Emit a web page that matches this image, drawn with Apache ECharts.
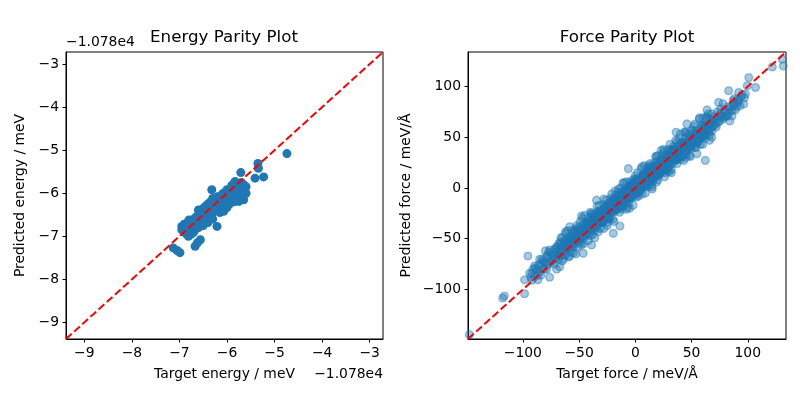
<!DOCTYPE html>
<html>
<head>
<meta charset="utf-8">
<script src="https://cdn.jsdelivr.net/npm/echarts@6/dist/echarts.min.js"></script>
<style>
  html, body { margin: 0; padding: 0; background: #fff; }
  #chart { width: 800px; height: 400px; }
</style>
</head>
<body>
<div id="chart"></div>
<script>
// energy values are relative to the axis offset shown on the plot (-1.078e4)
const energyOffsetLabel = '\u22121.078e4';
const energyTicks = [-9, -8, -7, -6, -5, -4, -3];
const energyLimits = [-9.385, -2.72];
const energyPoints = [
  [-7.13, -7.27], [-7.05, -7.33], [-6.99, -7.38],
  [-6.67, -7.23], [-6.62, -7.15], [-6.56, -7.08],
  [-6.95, -6.77], [-6.95, -6.85], [-6.9, -6.72], [-6.9, -6.9], [-6.88, -6.81], [-6.85, -6.8],
  [-6.85, -6.95], [-6.85, -6.7], [-6.81, -7.0], [-6.8, -6.75], [-6.8, -6.88], [-6.8, -6.62],
  [-6.75, -6.7], [-6.75, -6.85], [-6.75, -6.95], [-6.7, -6.6], [-6.7, -6.78], [-6.7, -6.9],
  [-6.65, -6.55], [-6.65, -6.7], [-6.65, -6.82], [-6.6, -6.39], [-6.6, -6.5], [-6.6, -6.65],
  [-6.6, -6.8], [-6.55, -6.45], [-6.55, -6.6], [-6.55, -6.72], [-6.5, -6.35], [-6.5, -6.5],
  [-6.5, -6.62], [-6.5, -6.75], [-6.45, -6.3], [-6.45, -6.45], [-6.45, -6.58], [-6.4, -6.25],
  [-6.4, -6.4], [-6.4, -6.55], [-6.4, -6.68], [-6.35, -6.2], [-6.35, -6.35], [-6.35, -6.5],
  [-6.32, -5.92], [-6.3, -6.12], [-6.3, -6.3], [-6.3, -6.45], [-6.3, -6.6], [-6.25, -6.15],
  [-6.25, -6.28], [-6.25, -6.4], [-6.21, -6.77], [-6.2, -6.08], [-6.2, -6.2], [-6.2, -6.35],
  [-6.15, -6.12], [-6.15, -6.25], [-6.15, -6.45], [-6.1, -6.02], [-6.1, -6.15], [-6.1, -6.3],
  [-6.07, -6.42], [-6.05, -5.98], [-6.05, -6.1], [-6.05, -6.25], [-6.0, -5.92], [-6.0, -6.05],
  [-6.0, -6.2], [-6.0, -6.33], [-5.95, -5.95], [-5.95, -6.1], [-5.95, -6.25], [-5.9, -5.82],
  [-5.9, -6.0], [-5.9, -6.15], [-5.85, -5.76], [-5.85, -5.9], [-5.85, -6.05], [-5.85, -6.2],
  [-5.83, -5.73], [-5.8, -5.8], [-5.8, -5.95], [-5.8, -6.1], [-5.75, -5.85], [-5.75, -6.0],
  [-5.75, -6.19], [-5.71, -5.52], [-5.7, -5.75], [-5.7, -5.9], [-5.7, -6.05], [-5.65, -5.8],
  [-5.65, -5.95], [-5.65, -6.15], [-5.6, -5.85], [-5.6, -6.0],
  [-5.41, -5.65], [-5.35, -5.31], [-5.34, -5.42], [-5.23, -5.62], [-4.74, -5.08]
];

const forceTicks = [-100, -50, 0, 50, 100];
const forceLimits = [-148.8, 134];
// [target, predicted] in meV/Å
const forceOutliers = [
  [-147.6, -144.4], [-117.9, -108.4], [-116.5, -106.5], [-98.5, -104.2], [-98.5, -90.5],
  [-95.5, -67.0], [-89.6, -76.8], [-85.1, -70.2], [-86.6, -90.5], [-76.2, -87.9], [-76.2, -61.1],
  [-67.2, -77.5], [-58.3, -38.2], [-47.9, -27.7], [-19.6, -44.7], [-13.7, -37.5], [-34.5, -12],
  [-46.4, -64.3], [-38.9, -56.2], [-6.2, 19.0], [54.8, 33.7], [62.2, 27.2], [130.7, 126.9],
  [131.6, 120.3], [121.8, 119.3], [100.9, 108.8], [99.5, 100.7], [106.9, 99.0], [97.9, 92.5],
  [83, 95.8], [91.9, 94.1], [96.4, 82.7], [87.5, 81.1], [74.1, 84.3], [63.8, 76.9],
  [45.9, 63.1], [36.3, 54.9]
];
const forceTails = [
  [-94, -84], [-92, -91], [-89, -79], [-87, -82], [-84, -86], [-83, -70], [-81, -73], [-79, -80],
  [-77, -63], [-76, -74], [-74, -67], [-72, -75], [-71, -61], [-69, -66],
  [69, 61], [70, 70], [72, 64], [73, 75], [75, 66], [76, 78], [77, 70], [79, 76], [81, 71],
  [82, 80], [85, 80], [86, 71], [88, 88], [89, 77], [91, 87], [93, 81], [95, 92], [97, 89]
];
const forceCore = [
  [-92, -84], [-90, -88], [-88, -80], [-86, -76], [-85, -83], [-83, -72], [-82, -79], [-80, -74],
  [-79, -68], [-78, -76], [-77, -70], [-75, -64], [-74, -72], [-73, -66], [-72, -60], [-71, -69],
  [-70, -63], [-69, -58], [-68, -66], [-67, -61], [-66, -55], [-65, -63], [-64, -58], [-63, -52],
  [-62, -60], [-61, -57], [-60, -50], [-59, -58], [-58, -53], [-57, -47], [-56, -54], [-55, -49],
  [-54, -44], [-53, -52], [-52, -46], [-51, -41], [-50, -49], [-49, -44], [-48.5, -38], [-47, -47],
  [-46, -40], [-45, -35], [-44, -44], [-43, -38], [-42, -33], [-41.5, -41], [-40, -36], [-39, -30],
  [-38.5, -40], [-37, -33], [-36, -28], [-35, -36], [-34, -31], [-33, -25], [-32, -33], [-31, -28],
  [-30, -22], [-29.5, -31], [-28, -25], [-27, -19], [-26, -28], [-25, -22], [-24, -16], [-23, -25],
  [-22, -19], [-21, -13], [-20, -22], [-19, -17], [-18, -11], [-17, -20], [-16, -14], [-15, -8],
  [-14, -17], [-13, -11], [-12, -5], [-11, -14], [-10, -8], [-9, -2], [-8, -12], [-7, -5],
  [-6, 1], [-5, -9], [-4, -3], [-3, 3], [-2, -6], [-1, 0], [0, 6], [1, -4], [2, 3], [3, 8],
  [4, -1], [5, 6], [6, 11], [7, 1], [8, 8], [9, 13], [10, 4], [11, 11], [12, 15], [13, 6],
  [14, 14], [15, 18], [16, 9], [17, 16], [18, 21], [19, 12], [20, 19], [21, 23], [22, 14],
  [23, 22], [24, 26], [25, 17], [26, 25], [27, 28], [28, 20], [29, 27], [30, 31], [31, 23],
  [32, 30], [33, 34], [34, 25], [35, 33], [36, 36], [37, 28], [38, 36], [39, 39], [40, 31],
  [41, 38], [42, 42], [43, 33], [44, 41], [45, 44], [46, 36], [47, 44], [48, 47], [49, 39],
  [50, 47], [51, 49], [52, 42], [53, 50], [54, 52], [55, 45], [56, 53], [57, 48], [58, 55],
  [59, 50], [60, 56], [61, 52], [62, 59], [63, 54], [64, 61], [66, 57], [67, 64], [68, 60],
  [70, 66], [71, 62], [73, 69], [74, 65], [76, 71], [78, 68], [80, 75], [82, 71], [84, 78],
  [86, 76], [88, 83], [90, 80], [92, 86],
  [-49.5, -51], [-47.5, -42], [-44.5, -47], [-42.5, -36], [-39.5, -42], [-37.5, -31], [-34.5, -37],
  [-32.5, -26], [-29.5, -34], [-27.5, -22], [-24.5, -29], [-22.5, -17], [-19.5, -24], [-17.5, -12],
  [-14.5, -19], [-12.5, -7], [-9.5, -14], [-7.5, -2], [-4.5, -10], [-2.5, 4], [0.5, -6], [2.5, 9],
  [5.5, 0], [7.5, 13], [10.5, 5], [12.5, 18], [15.5, 10], [17.5, 23], [20.5, 15], [22.5, 27],
  [25.5, 20], [27.5, 32], [30.5, 25], [32.5, 37], [35.5, 29], [37.5, 41], [40.5, 33], [42.5, 45],
  [45.5, 38], [47.5, 49], [50.5, 43], [52.5, 54], [55.5, 47], [57.5, 58], [60.5, 51], [62.5, 62],
  [65.5, 55], [68.5, 66], [72, 60], [75, 73], [79, 70], [83, 74], [87, 86], [91, 84], [94, 90],
  [-93, -88], [-91, -80], [-87, -86], [-84, -75], [-81, -80], [-78, -66], [-73, -71], [-70, -58],
  [-66, -64], [-63, -56], [-60, -59], [-57, -51], [-54, -55], [-52, -43],
  [-62, -45], [-55, -64], [-40, -24], [-28, -40], [-18, -3], [-5, -20], [8, 22], [15, 1],
  [25, 38], [30, 16], [44, 55], [48, 32], [60, 69], [68, 50], [78, 83], [84, 66], [-70, -80],
  [-80, -62], [20, 32], [-10, 5]
];
const forceWide = [
  [-68, -55], [-68, -70], [-67, -67], [-67, -53], [-66, -49], [-66, -64], [-65, -72], [-65, -49],
  [-64, -58], [-64, -70], [-63, -66], [-63, -54], [-62, -43], [-62, -66], [-61, -58], [-61, -56],
  [-60, -50], [-60, -42], [-59, -68], [-59, -67], [-58, -51], [-58, -48], [-57, -63], [-57, -59],
  [-56, -42], [-56, -50], [-55, -55], [-55, -58], [-54, -43], [-54, -41], [-53, -65], [-53, -52],
  [-52, -49], [-52, -37], [-51, -39], [-51, -58], [-50, -51], [-50, -42], [-49, -33], [-49, -54],
  [-48, -56], [-48, -44], [-47, -42], [-47, -30], [-46, -50], [-46, -55], [-45, -27], [-45, -35],
  [-44, -42], [-44, -46], [-43, -34], [-43, -37], [-42, -52], [-42, -45], [-41, -35], [-41, -29],
  [-40, -47], [-40, -40], [-39, -26], [-39, -25], [-38, -39], [-38, -46], [-37, -27], [-37, -30],
  [-36, -49], [-36, -42], [-35, -33], [-35, -32], [-34, -23], [-34, -18], [-33, -35], [-33, -43],
  [-32, -17], [-32, -23], [-31, -40], [-31, -34], [-30, -26], [-30, -25], [-29, -34], [-29, -33],
  [-28, -11], [-28, -16], [-27, -26], [-27, -27], [-26, -18], [-26, -12], [-25, -37], [-25, -34],
  [-24, -19], [-24, -18], [-23, -31], [-23, -30], [-22, -10], [-22, -20], [-21, -23], [-21, -6],
  [-20, -11], [-20, -31], [-19, -33], [-19, -11], [-18, -17], [-18, -22], [-17, -7], [-17, -13],
  [-16, -19], [-16, -21], [-15, -1], [-15, -4], [-14, -24], [-14, -15], [-13, -10], [-13, 0],
  [-12, -18], [-12, -21], [-11, 5], [-11, -5], [-10, -10], [-10, -17], [-9, -2], [-9, -7],
  [-8, -21], [-8, 6], [-7, -3], [-7, -19], [-6, -15], [-6, 1], [-5, 6], [-5, -10], [-4, -7],
  [-4, -1], [-3, 5], [-3, -9], [-2, -17], [-2, 8], [-1, -1], [-1, -3], [0, 9], [0, 12], [1, -3],
  [1, -9], [2, 15], [2, 7], [3, -8], [3, -5], [4, 6], [4, 5], [5, -2], [5, 19], [6, 21], [6, -6],
  [7, 6], [7, 14], [8, 14], [8, 3], [9, -5], [9, 11], [10, 13], [10, 3], [11, 1], [11, 20],
  [12, 22], [12, 9], [13, 9], [13, 24], [14, 21], [14, 3], [15, -1], [15, 19], [16, 15], [16, 7],
  [17, 25], [17, 17], [18, 13], [18, 31], [19, 31], [19, 6], [20, 8], [20, 26], [21, 22], [21, 15],
  [22, 14], [22, 24], [23, 37], [23, 16], [24, 22], [24, 33], [25, 29], [25, 21], [26, 11],
  [26, 36], [27, 29], [27, 15], [28, 17], [28, 31], [29, 38], [29, 19], [30, 25], [30, 29],
  [31, 37], [31, 43], [32, 15], [32, 18], [33, 31], [33, 38], [34, 41], [34, 27], [35, 29],
  [35, 36], [36, 47], [36, 28], [37, 24], [37, 45], [38, 38], [38, 34], [39, 30], [39, 49],
  [40, 53], [40, 28], [41, 38], [41, 44], [42, 45], [42, 31], [43, 27], [43, 41], [44, 45],
  [44, 55], [45, 33], [45, 30], [46, 54], [46, 50], [47, 41], [47, 39], [48, 53], [48, 48],
  [49, 31], [49, 40], [50, 47], [50, 57], [51, 57], [51, 46], [52, 45], [52, 61], [53, 63],
  [53, 40], [54, 40], [54, 56], [55, 54], [55, 44], [56, 46], [56, 54], [57, 69], [57, 68],
  [58, 54], [58, 43], [59, 61], [59, 62], [60, 43], [60, 51], [61, 61], [61, 60], [62, 49],
  [62, 52], [63, 70], [63, 69], [64, 57], [64, 58], [65, 69], [65, 73], [66, 47], [66, 52],
  [67, 63], [67, 68], [68, 73], [68, 56]
];
const forceMid = [
  [-39.5, -35], [-38.5, -41], [-37.5, -29], [-36.5, -35], [-35.5, -29], [-34.5, -39], [-33.5, -31],
  [-32.5, -24], [-31.5, -33], [-30.5, -24], [-29.5, -34], [-28.5, -25], [-27.5, -31], [-26.5, -19],
  [-25.5, -25], [-24.5, -19], [-23.5, -29], [-22.5, -21], [-21.5, -13], [-20.5, -22], [-19.5, -13],
  [-18.5, -23], [-17.5, -14], [-16.5, -21], [-15.5, -9], [-14.5, -15], [-13.5, -9], [-12.5, -19],
  [-11.5, -11], [-10.5, -3], [-9.5, -12], [-8.5, -3], [-7.5, -13], [-6.5, -4], [-5.5, -10],
  [-4.5, 2], [-3.5, -4], [-2.5, 2], [-1.5, -8], [-0.5, 0], [0.5, 7], [1.5, -2], [2.5, 7],
  [3.5, -3], [4.5, 6], [5.5, 0], [6.5, 12], [7.5, 6], [8.5, 12], [9.5, 2], [10.5, 10],
  [11.5, 18], [12.5, 9], [13.5, 18], [14.5, 8], [15.5, 17], [16.5, 11], [17.5, 22], [18.5, 16],
  [19.5, 22], [20.5, 12], [21.5, 20], [22.5, 28], [23.5, 19], [24.5, 28], [25.5, 18], [26.5, 27],
  [27.5, 21], [28.5, 33], [29.5, 27], [30.5, 33], [31.5, 23], [32.5, 31], [33.5, 38], [34.5, 29],
  [35.5, 38], [36.5, 28], [37.5, 37], [38.5, 31], [39.5, 43]
];

const blue = '#1f77b4';
const font = 'DejaVu Sans';
const minus = (v) => String(v).replace('-', '\u2212');

function axisCommon(ticks, limits, name, gap, idx) {
  return {
    type: 'value',
    gridIndex: idx,
    min: limits[0],
    max: limits[1],
    name: name,
    nameLocation: 'middle',
    nameGap: gap,
    nameTextStyle: { color: '#000', fontFamily: font, fontSize: 13.9 },
    splitLine: { show: false },
    axisLine: { show: true, onZero: false, lineStyle: { color: '#000', width: 1 } },
    axisTick: { show: true, length: 3.5, lineStyle: { color: '#000' }, customValues: ticks },
    axisLabel: {
      color: '#000', fontFamily: font, fontSize: 13.9, margin: 7,
      customValues: ticks, formatter: minus
    }
  };
}

const chart = echarts.init(document.getElementById('chart'), null, { renderer: 'canvas' });

const diagStyle = { color: 'red', width: 2, type: [7.7, 3.3] };
const titleStyle = { fontFamily: font, fontSize: 16.7, fontWeight: 'normal', color: '#000' };

chart.setOption({
  animation: false,
  backgroundColor: '#fff',
  title: [
    { text: 'Energy Parity Plot', left: 224, top: 29, padding: 0, textAlign: 'center', textStyle: titleStyle },
    { text: 'Force Parity Plot', left: 627, top: 29, padding: 0, textAlign: 'center', textStyle: titleStyle }
  ],
  grid: [
    { left: 66, right: 417, top: 52, bottom: 61, show: true, borderColor: '#000', borderWidth: 1, backgroundColor: 'transparent' },
    { left: 468, right: 14, top: 52, bottom: 61, show: true, borderColor: '#000', borderWidth: 1, backgroundColor: 'transparent' }
  ],
  xAxis: [
    axisCommon(energyTicks, energyLimits, 'Target energy / meV', 28, 0),
    axisCommon(forceTicks, forceLimits, 'Target force / meV/\u00c5', 28, 1)
  ],
  yAxis: [
    axisCommon(energyTicks, energyLimits, 'Predicted energy / meV', 39, 0),
    axisCommon(forceTicks, forceLimits, 'Predicted force / meV/\u00c5', 55, 1)
  ],
  graphic: [
    { type: 'text', x: 66, y: 42, style: { text: energyOffsetLabel, font: '13.9px "DejaVu Sans"', fill: '#000', align: 'left', verticalAlign: 'middle' } },
    { type: 'text', x: 383, y: 374, style: { text: energyOffsetLabel, font: '13.9px "DejaVu Sans"', fill: '#000', align: 'right', verticalAlign: 'middle' } }
  ],
  series: [
    {
      type: 'scatter', xAxisIndex: 0, yAxisIndex: 0,
      symbolSize: 9, data: energyPoints,
      itemStyle: { color: blue, opacity: 1 }
    },
    {
      type: 'line', xAxisIndex: 0, yAxisIndex: 0, symbol: 'none', clip: true,
      data: [[energyLimits[0], energyLimits[0]], [energyLimits[1], energyLimits[1]]],
      lineStyle: diagStyle, z: 5
    },
    {
      type: 'scatter', xAxisIndex: 1, yAxisIndex: 1, large: false,
      symbolSize: 7.8,
      data: forceWide.concat(forceMid, forceCore, forceTails, forceOutliers),
      itemStyle: { color: 'rgba(31,119,180,0.5)', borderColor: 'rgba(31,119,180,0.5)', borderWidth: 1.4 }
    },
    {
      type: 'line', xAxisIndex: 1, yAxisIndex: 1, symbol: 'none', clip: true,
      data: [[forceLimits[0], forceLimits[0]], [forceLimits[1], forceLimits[1]]],
      lineStyle: diagStyle, z: 5
    }
  ]
});
</script>
</body>
</html>
